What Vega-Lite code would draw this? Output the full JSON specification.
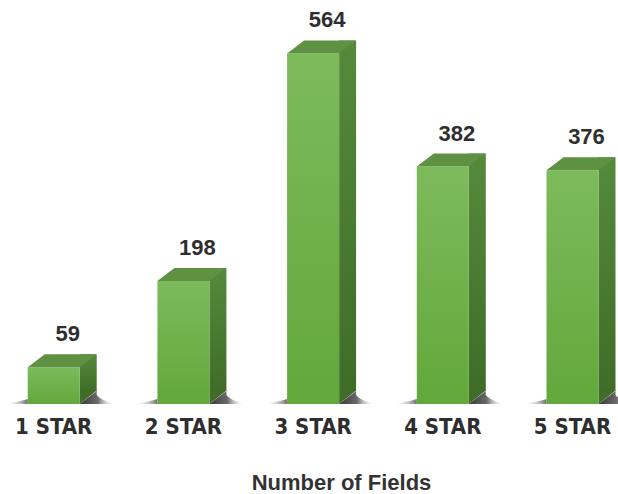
{
  "$schema": "https://vega.github.io/schema/vega-lite/v6.json",
  "width": 618,
  "height": 404,
  "autosize": {"type": "none"},
  "padding": {"left": 0, "top": 0, "right": 0, "bottom": 90},
  "background": "white",
  "config": {"view": {"stroke": null}},
  "data": {
    "values": [
      {"rating": "1 STAR", "fields": 59},
      {"rating": "2 STAR", "fields": 198},
      {"rating": "3 STAR", "fields": 564},
      {"rating": "4 STAR", "fields": 382},
      {"rating": "5 STAR", "fields": 376}
    ]
  },
  "encoding": {
    "x": {
      "field": "rating",
      "type": "nominal",
      "sort": null,
      "scale": {"paddingInner": 0.599, "paddingOuter": 0.182, "align": 0.587},
      "axis": {
        "title": "Number of Fields",
        "labelAngle": 0,
        "domain": false,
        "ticks": false,
        "tickSize": 0,
        "labelPadding": 12,
        "labelFont": "Liberation Sans Narrow, DejaVu Sans Condensed, sans-serif",
        "labelFontWeight": "bold",
        "labelFontSize": 22,
        "labelColor": "#2e2e2e",
        "titleFont": "Liberation Sans, Arial, sans-serif",
        "titleFontWeight": "bold",
        "titleFontSize": 22,
        "titleColor": "#333333",
        "titleX": 341,
        "titleY": 85,
        "titleAlign": "center",
        "titleBaseline": "alphabetic"
      }
    }
  },
  "layer": [
    {
      "mark": {
        "type": "bar",
        "width": 17,
        "xOffset": 34.5,
        "yOffset": -13,
        "y2Offset": -13,
        "fill": {
          "gradient": "linear",
          "x1": 0, "y1": 0, "x2": 0, "y2": 1,
          "stops": [
            {"offset": 0, "color": "#558a3b"},
            {"offset": 1, "color": "#3f6d28"}
          ]
        }
      },
      "encoding": {
        "y": {"field": "fields", "type": "quantitative", "scale": {"domain": [0, 650], "nice": false}, "axis": null}
      }
    },
    {
      "mark": {
        "type": "point",
        "shape": "M26,0 L26,-13.5 L43,-13.5 Z",
        "size": 4,
        "filled": true,
        "opacity": 1,
        "strokeWidth": 0,
        "color": "#3f6d28"
      },
      "encoding": {
        "y": {"datum": 0, "type": "quantitative", "scale": {"domain": [0, 650], "nice": false}}
      }
    },
    {
      "mark": {
        "type": "point",
        "shape": "M26,0 L43,-13 L43,-9 Q46,-4 62,0 Z",
        "size": 4,
        "filled": true,
        "opacity": 1,
        "strokeWidth": 0,
        "fill": {
          "gradient": "linear",
          "x1": 0, "y1": 0, "x2": 1, "y2": 0,
          "stops": [
            {"offset": 0, "color": "#3a3a3a"},
            {"offset": 0.5, "color": "#6a6a6a"},
            {"offset": 1, "color": "rgba(255,255,255,0)"}
          ]
        }
      },
      "encoding": {
        "y": {"datum": 0, "type": "quantitative", "scale": {"domain": [0, 650], "nice": false}}
      }
    },
    {
      "mark": {
        "type": "point",
        "shape": "M-26,0 L-26,-5 Q-36,-2 -50,0 Z",
        "size": 4,
        "filled": true,
        "opacity": 1,
        "strokeWidth": 0,
        "fill": {
          "gradient": "linear",
          "x1": 0, "y1": 0, "x2": 1, "y2": 0,
          "stops": [
            {"offset": 0, "color": "rgba(255,255,255,0)"},
            {"offset": 1, "color": "#6e6e6e"}
          ]
        }
      },
      "encoding": {
        "y": {"datum": 0, "type": "quantitative", "scale": {"domain": [0, 650], "nice": false}}
      }
    },
    {
      "mark": {
        "type": "bar",
        "fill": {
          "gradient": "linear",
          "x1": 0, "y1": 0, "x2": 0, "y2": 1,
          "stops": [
            {"offset": 0, "color": "#7dba5c"},
            {"offset": 1, "color": "#62a83b"}
          ]
        }
      },
      "encoding": {
        "y": {"field": "fields", "type": "quantitative"}
      }
    },
    {
      "mark": {
        "type": "point",
        "shape": "M-26,0 L26,0 L43,-13 L-9,-13 Z",
        "size": 4,
        "filled": true,
        "opacity": 1,
        "strokeWidth": 0,
        "color": "#5f9142"
      },
      "encoding": {
        "y": {"field": "fields", "type": "quantitative"}
      }
    },
    {
      "mark": {
        "type": "text",
        "dx": 14,
        "dy": -26,
        "baseline": "alphabetic",
        "align": "center",
        "font": "Liberation Sans, Arial, sans-serif",
        "fontWeight": "bold",
        "fontSize": 22,
        "color": "#2e2e2e"
      },
      "encoding": {
        "y": {"field": "fields", "type": "quantitative"},
        "text": {"field": "fields", "type": "quantitative"}
      }
    }
  ]
}
